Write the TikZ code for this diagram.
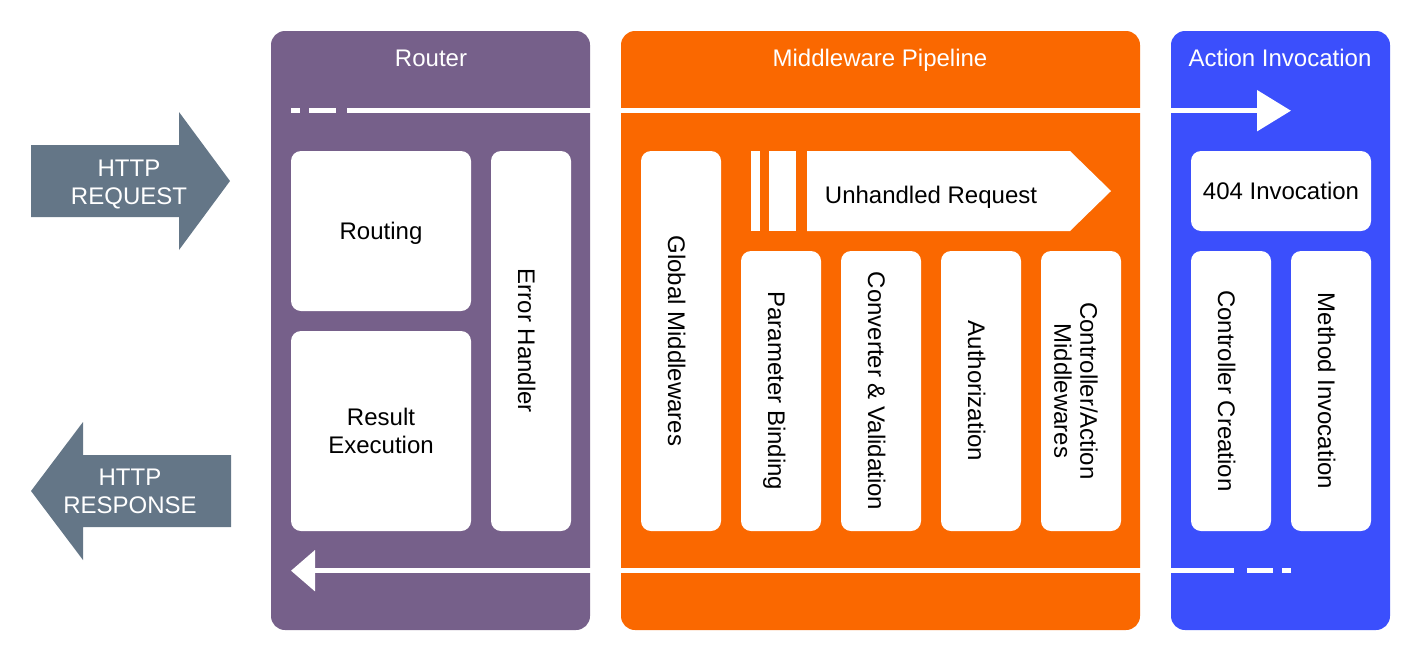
\documentclass[tikz,border=0pt]{standalone}
\usepackage{fontspec}
\setmainfont{Liberation Sans}
\usetikzlibrary{arrows.meta}
\definecolor{routerc}{HTML}{76608A}
\definecolor{mwc}{HTML}{FA6800}
\definecolor{actc}{HTML}{3B4FFC}
\definecolor{httpc}{HTML}{647687}
\newcommand\diafont{\fontsize{24}{28}\selectfont}
\begin{document}
\begin{tikzpicture}[x=1pt,y=-1pt,
  capc/.style={text height=17.2pt, text depth=0pt},
  captwo/.style={text height=45.2pt, text depth=0pt},
  panel/.style={rounded corners=14pt, inner sep=0pt, draw=none},
  ptitle/.style={text=white, font=\diafont, inner sep=0pt, capc},
  box/.style={fill=white, rounded corners=10pt, inner sep=2pt, align=center, font=\diafont, text=black, capc},
  vbox/.style={box, rotate=-90, minimum width=280, minimum height=80, text height=25.8pt},
  flow/.style={draw=white, line width=5.5pt, line cap=butt},
  httpshape/.style={fill=httpc},
  httptext/.style={text=white, font=\diafont, align=center, inner sep=0pt, captwo}]
\useasboundingbox (0,0) rectangle (1424,662);

% panels
\node[panel, fill=routerc, minimum width=319, minimum height=599] (router) at (430.5,330.5) {};
\node[panel, fill=mwc, minimum width=519, minimum height=599] (mw) at (880.5,330.5) {};
\node[panel, fill=actc, minimum width=219, minimum height=599] (act) at (1280.5,330.5) {};
\node[ptitle] (routert) at (431,58) {Router};
\node[ptitle] (mwt) at (880,58) {Middleware Pipeline};
\node[ptitle] (actt) at (1280,58) {Action Invocation};

% HTTP arrows
\fill[httpshape] (31,145) -- (179,145) -- (179,112) -- (230,181) -- (179,250) -- (179,217) -- (31,217) -- cycle;
\node[httptext] (req) at (129,182) {HTTP\\REQUEST};
\fill[httpshape] (231,455) -- (83,455) -- (83,422) -- (31,491) -- (83,560) -- (83,527) -- (231,527) -- cycle;
\node[httptext] (resp) at (130,491) {HTTP\\RESPONSE};

% flow lines
\coordinate (ta) at (291,110.7);
\coordinate (tb) at (300,110.7);
\coordinate (tc) at (309,110.7);
\coordinate (td) at (336,110.7);
\coordinate (te) at (347,110.7);
\coordinate (tf) at (1291,110.7);
\draw[flow] (ta) -- (tb);
\draw[flow] (tc) -- (td);
\draw[flow, -{Triangle[length=34pt,width=40pt]}] (te) -- (tf);

\coordinate (ba) at (1291,570.7);
\coordinate (bb) at (1282,570.7);
\coordinate (bc) at (1273,570.7);
\coordinate (bd) at (1247,570.7);
\coordinate (be) at (1234,570.7);
\coordinate (bf) at (291,570.7);
\draw[flow] (ba) -- (bb);
\draw[flow] (bc) -- (bd);
\draw[flow, -{Triangle[length=24pt,width=40pt]}] (be) -- (bf);

% router boxes
\node[box, minimum width=180, minimum height=160] (routing) at (381,231) {Routing};
\node[box, captwo, minimum width=180, minimum height=200] (result) at (381,431) {Result\\Execution};
\node[vbox, minimum width=380] (err) at (531,341) {Error Handler};

% middleware boxes
\node[vbox, minimum width=380] (global) at (681,341) {Global Middlewares};
\fill[white] (751,151) rectangle (760,231);
\fill[white] (769,151) rectangle (796,231);
\fill[white] (807,151) -- (1070,151) -- (1111,191) -- (1070,231) -- (807,231) -- cycle;
\node[font=\diafont, inner sep=0pt, capc] (unh) at (931,194.7) {Unhandled Request};
\node[vbox] (param) at (781,391) {Parameter Binding};
\node[vbox] (conv) at (881,391) {Converter \& Validation};
\node[vbox] (auth) at (981,391) {Authorization};
\node[vbox, text height=53.2pt, text depth=0pt] (ctrlmw) at (1081,391) {Controller/Action\\[-2pt]Middlewares};

% action boxes
\node[box, minimum width=180, minimum height=80] (inv404) at (1281,191) {404 Invocation};
\node[vbox] (ctrlc) at (1231,391) {Controller Creation};
\node[vbox] (meth) at (1331,391) {Method Invocation};
\end{tikzpicture}
\end{document}
